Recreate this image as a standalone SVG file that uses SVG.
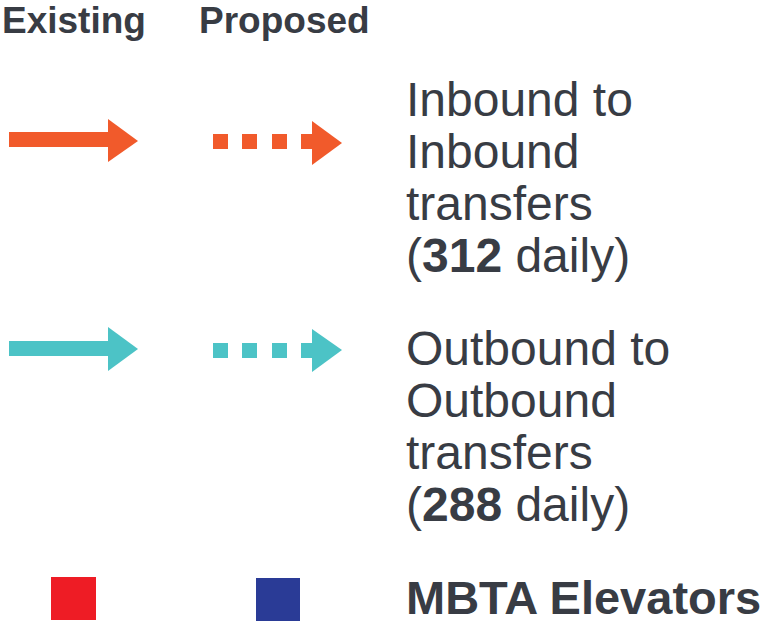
<svg xmlns="http://www.w3.org/2000/svg" width="768" height="623" viewBox="0 0 768 623">
<style>
text{font-family:"Liberation Sans",Arial,sans-serif;fill:#383c44}
.h{font-size:37px;font-weight:bold}
.l{font-size:48px}
.b{font-weight:bold}
.or{fill:#f15a2b}
.te{fill:#4cc3c6}
</style>
<rect width="768" height="623" fill="#fff"/>
<g id="headers">
<text class="h" x="2" y="33">Existing</text>
<text class="h" x="199" y="33">Proposed</text>
</g>
<g id="connectors">
<g id="inbound-existing" class="or">
<rect x="9" y="132" width="100" height="15"/>
<polygon points="108,119 138,141 108,162"/>
</g>
<g id="inbound-proposed" class="or">
<rect x="213" y="134" width="15" height="15"/>
<rect x="242" y="134" width="15" height="15"/>
<rect x="272" y="134" width="15" height="15"/>
<rect x="301" y="134" width="12" height="15"/>
<polygon points="312,121 342,143 312,165"/>
</g>
<g id="outbound-existing" class="te">
<rect x="9" y="341" width="100" height="15"/>
<polygon points="108,327 138,349 108,371"/>
</g>
<g id="outbound-proposed" class="te">
<rect x="213" y="343" width="15" height="15"/>
<rect x="242" y="343" width="15" height="15"/>
<rect x="272" y="343" width="15" height="15"/>
<rect x="301" y="343" width="12" height="15"/>
<polygon points="312,329 342,350 312,372"/>
</g>
</g>
<g id="inbound-label">
<text class="l" x="406" y="116">Inbound to</text>
<text class="l" x="406" y="168">Inbound</text>
<text class="l" x="406" y="220">transfers</text>
<text class="l" x="406" y="272">(<tspan class="b">312</tspan> daily)</text>
</g>
<g id="outbound-label">
<text class="l" x="406" y="365">Outbound to</text>
<text class="l" x="406" y="417">Outbound</text>
<text class="l" x="406" y="469">transfers</text>
<text class="l" x="406" y="521">(<tspan class="b">288</tspan> daily)</text>
</g>
<g id="elevators">
<rect x="51" y="577" width="45" height="43" fill="#ee1c25"/>
<rect x="256" y="578" width="44" height="43" fill="#2a3b96"/>
<text class="l b" x="406" y="614" style="font-size:47px">MBTA Elevators</text>
</g>
</svg>
